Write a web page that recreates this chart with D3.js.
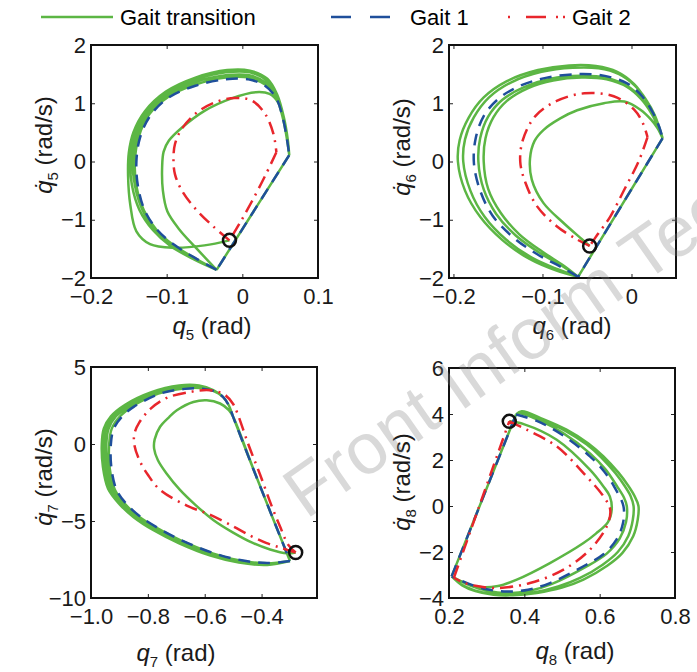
<!DOCTYPE html>
<html>
<head>
<meta charset="utf-8">
<script src="https://cdn.jsdelivr.net/npm/d3@7"></script>
<style>
body { margin: 0; background: #fff; }
text { font-family: "Liberation Sans", Arial, sans-serif; }
</style>
</head>
<body>
<div id="chart"></div>
<script>
// legend entries
var legend_names = ['Gait transition', 'Gait 1', 'Gait 2'];

// ---- q5 panel ----
var q5_xticks = [-0.2, -0.1, 0, 0.1];
var q5_xlabels = ['\u22120.2', '\u22120.1', '0', '0.1'];
var q5_yticks = [-2, -1, 0, 1, 2];
var q5_ylabels = ['\u22122', '\u22121', '0', '1', '2'];
var q5_start = [-0.017, -1.354];
var q5_gait1 = [
  [[-0.034,-1.86],[-0.062,-1.66],[-0.09,-1.43],[-0.112,-1.18],[-0.129,-0.84],[-0.138,-0.42],[-0.140,0.0],[-0.135,0.42],[-0.121,0.8],[-0.097,1.1],[-0.062,1.3],[-0.022,1.41],[0.008,1.41],[0.03,1.3],[0.045,1.08],[0.054,0.72],[0.059,0.38],[0.062,0.11]],
  [[0.062,0.11],[-0.034,-1.86]]
];
var q5_gait2 = [
  [[-0.017,-1.354],[-0.038,-1.12],[-0.06,-0.84],[-0.079,-0.52],[-0.089,-0.22],[-0.091,0.05],[-0.089,0.3],[-0.08,0.56],[-0.06,0.84],[-0.035,1.02],[-0.01,1.09],[0.012,1.05],[0.03,0.82],[0.041,0.48],[0.045,0.16]],
  [[0.045,0.16],[0.03,-0.25],[0.012,-0.7],[-0.003,-1.05],[-0.017,-1.354]]
];
var q5_trans = [
  [[-0.017,-1.354],[-0.05,-1.44],[-0.09,-1.48],[-0.122,-1.42],[-0.14,-1.2],[-0.148,-0.75],[-0.151,-0.25],[-0.15,0.15],[-0.144,0.5],[-0.129,0.86],[-0.101,1.2],[-0.062,1.44],[-0.02,1.57],[0.01,1.56],[0.033,1.42],[0.046,1.15],[0.055,0.75],[0.06,0.38],[0.062,0.11]],
  [[0.062,0.11],[-0.034,-1.86]],
  [[-0.034,-1.86],[-0.06,-1.5],[-0.083,-1.17],[-0.099,-0.86],[-0.105,-0.5],[-0.106,-0.1],[-0.104,0.17],[-0.097,0.36],[-0.08,0.58],[-0.05,0.87],[-0.015,1.08],[0.018,1.19],[0.036,1.16],[0.047,1.02],[0.055,0.7],[0.06,0.36],[0.062,0.11]],
  [[0.062,0.11],[-0.034,-1.86]],
  [[-0.034,-1.86],[-0.064,-1.68],[-0.095,-1.45],[-0.118,-1.18],[-0.136,-0.83],[-0.146,-0.4],[-0.148,0.0],[-0.143,0.43],[-0.127,0.84],[-0.1,1.17],[-0.063,1.4],[-0.022,1.53],[0.01,1.53],[0.032,1.39],[0.046,1.12],[0.055,0.74],[0.06,0.37],[0.062,0.11]],
  [[0.062,0.11],[-0.034,-1.86]],
  [[-0.034,-1.86],[-0.063,-1.67],[-0.092,-1.44],[-0.115,-1.18],[-0.132,-0.83],[-0.142,-0.41],[-0.145,0.0],[-0.14,0.42],[-0.125,0.82],[-0.099,1.13],[-0.063,1.36],[-0.022,1.48],[0.009,1.48],[0.031,1.35],[0.046,1.1],[0.055,0.73],[0.06,0.37],[0.062,0.11]],
  [[0.062,0.11],[-0.034,-1.86]],
  [[-0.034,-1.86],[-0.062,-1.665],[-0.091,-1.435],[-0.113,-1.18],[-0.13,-0.84],[-0.14,-0.42],[-0.142,0.0],[-0.137,0.42],[-0.123,0.81],[-0.098,1.11],[-0.062,1.32],[-0.022,1.44],[0.008,1.44],[0.03,1.32],[0.045,1.09],[0.054,0.72],[0.059,0.38],[0.062,0.11]],
  [[0.062,0.11],[-0.034,-1.86]]
];

// ---- q6 panel ----
var q6_xticks = [-0.2, -0.1, 0];
var q6_xlabels = ['\u22120.2', '\u22120.1', '0'];
var q6_yticks = [-2, -1, 0, 1, 2];
var q6_ylabels = ['\u22122', '\u22121', '0', '1', '2'];
var q6_start = [-0.047, -1.45];
var q6_gait1 = [
  [[-0.06,-1.98],[-0.078,-1.82],[-0.105,-1.6],[-0.133,-1.3],[-0.156,-0.93],[-0.17,-0.5],[-0.177,-0.03],[-0.175,0.4],[-0.166,0.78],[-0.15,1.07],[-0.125,1.3],[-0.095,1.44],[-0.06,1.5],[-0.03,1.47],[-0.005,1.34],[0.012,1.12],[0.024,0.84],[0.031,0.6],[0.035,0.40]],
  [[0.035,0.40],[-0.06,-1.98]]
];
var q6_gait2 = [
  [[-0.047,-1.45],[-0.061,-1.34],[-0.084,-1.11],[-0.106,-0.77],[-0.119,-0.37],[-0.125,0.0],[-0.122,0.37],[-0.108,0.78],[-0.084,1.04],[-0.053,1.17],[-0.02,1.12],[0.003,0.89],[0.013,0.65],[0.018,0.42]],
  [[0.018,0.42],[0.008,0.0],[-0.008,-0.48],[-0.024,-0.95],[-0.038,-1.25],[-0.047,-1.45]]
];
var q6_trans = [
  [[-0.047,-1.45],[-0.056,-1.33],[-0.076,-1.06],[-0.099,-0.71],[-0.112,-0.31],[-0.114,0.05],[-0.109,0.35],[-0.099,0.54],[-0.08,0.74],[-0.061,0.88],[-0.031,1.0],[-0.008,1.03],[0.01,0.89],[0.022,0.72],[0.029,0.58],[0.035,0.40]],
  [[0.035,0.40],[-0.06,-1.98]],
  [[-0.06,-1.98],[-0.085,-1.87],[-0.115,-1.67],[-0.145,-1.35],[-0.17,-0.95],[-0.187,-0.5],[-0.195,0.0],[-0.193,0.37],[-0.183,0.75],[-0.166,1.1],[-0.14,1.38],[-0.105,1.57],[-0.07,1.65],[-0.04,1.64],[-0.016,1.54],[0.003,1.33],[0.015,1.09],[0.025,0.82],[0.035,0.40]],
  [[0.035,0.40],[-0.06,-1.98]],
  [[-0.06,-1.98],[-0.083,-1.85],[-0.112,-1.65],[-0.141,-1.34],[-0.165,-0.95],[-0.181,-0.5],[-0.189,0.0],[-0.187,0.38],[-0.177,0.76],[-0.16,1.1],[-0.135,1.36],[-0.101,1.54],[-0.066,1.61],[-0.037,1.6],[-0.014,1.5],[0.004,1.3],[0.016,1.07],[0.026,0.8],[0.035,0.40]],
  [[0.035,0.40],[-0.06,-1.98]],
  [[-0.06,-1.98],[-0.077,-1.8],[-0.103,-1.57],[-0.13,-1.27],[-0.152,-0.9],[-0.166,-0.48],[-0.172,0.0],[-0.17,0.4],[-0.161,0.77],[-0.145,1.06],[-0.12,1.28],[-0.091,1.42],[-0.058,1.47],[-0.029,1.44],[-0.005,1.3],[0.011,1.09],[0.023,0.82],[0.03,0.6],[0.035,0.40]],
  [[0.035,0.40],[-0.06,-1.98]],
  [[-0.06,-1.98],[-0.076,-1.79],[-0.1,-1.55],[-0.126,-1.25],[-0.147,-0.88],[-0.161,-0.47],[-0.166,0.0],[-0.164,0.4],[-0.155,0.76],[-0.14,1.04],[-0.116,1.26],[-0.088,1.39],[-0.056,1.44],[-0.028,1.41],[-0.005,1.28],[0.011,1.07],[0.023,0.81],[0.03,0.59],[0.035,0.40]],
  [[0.035,0.40],[-0.06,-1.98]]
];

// ---- q7 panel ----
var q7_xticks = [-1.0, -0.8, -0.6, -0.4];
var q7_xlabels = ['\u22121.0', '\u22120.8', '\u22120.6', '\u22120.4'];
var q7_yticks = [-10, -5, 0, 5];
var q7_ylabels = ['\u221210', '\u22125', '0', '5'];
var q7_start = [-0.28, -7.05];
var q7_gait1 = [
  [[-0.30,-7.6],[-0.38,-7.73],[-0.47,-7.55],[-0.57,-7.08],[-0.685,-6.22],[-0.76,-5.5],[-0.827,-4.71],[-0.875,-3.9],[-0.91,-2.98],[-0.928,-1.6],[-0.93,0.0],[-0.92,1.0],[-0.89,1.8],[-0.85,2.41],[-0.757,3.27],[-0.67,3.58],[-0.616,3.6],[-0.57,3.45],[-0.535,3.05],[-0.515,2.5],[-0.5,1.76],[-0.421,-2.0],[-0.30,-7.6]]
];
var q7_gait2 = [
  [[-0.28,-7.05],[-0.33,-6.75],[-0.382,-6.44],[-0.44,-5.95],[-0.499,-5.36],[-0.58,-4.6],[-0.663,-4.0],[-0.757,-2.98],[-0.8,-2.0],[-0.83,-1.04],[-0.848,0.0],[-0.847,0.68],[-0.83,1.4],[-0.79,2.3],[-0.733,3.0],[-0.651,3.38],[-0.581,3.49],[-0.53,3.2],[-0.5,2.6],[-0.485,2.0],[-0.447,0.0],[-0.405,-2.0],[-0.365,-4.0],[-0.335,-5.36],[-0.306,-6.55],[-0.28,-7.05]]
];
var q7_trans = [
  [[-0.28,-7.05],[-0.312,-7.1],[-0.37,-6.85],[-0.429,-6.44],[-0.5,-5.75],[-0.57,-4.93],[-0.63,-4.0],[-0.687,-2.98],[-0.735,-1.9],[-0.765,-1.04],[-0.778,-0.3],[-0.776,0.3],[-0.757,1.12],[-0.725,1.75],[-0.698,2.19],[-0.64,2.73],[-0.593,2.84],[-0.546,2.63],[-0.515,2.2],[-0.5,1.76],[-0.421,-2.0],[-0.30,-7.6]],
  [[-0.30,-7.6],[-0.38,-7.85],[-0.48,-7.7],[-0.58,-7.25],[-0.69,-6.45],[-0.78,-5.6],[-0.85,-4.75],[-0.9,-3.9],[-0.94,-2.9],[-0.958,-1.5],[-0.962,0.0],[-0.955,1.0],[-0.93,1.8],[-0.88,2.55],[-0.79,3.35],[-0.69,3.8],[-0.62,3.8],[-0.57,3.5],[-0.535,3.05],[-0.515,2.5],[-0.5,1.76],[-0.421,-2.0],[-0.30,-7.6]],
  [[-0.30,-7.6],[-0.38,-7.81],[-0.478,-7.66],[-0.578,-7.2],[-0.688,-6.38],[-0.776,-5.55],[-0.845,-4.73],[-0.894,-3.9],[-0.932,-2.92],[-0.95,-1.55],[-0.954,0.0],[-0.947,1.0],[-0.921,1.8],[-0.872,2.5],[-0.782,3.3],[-0.685,3.72],[-0.618,3.74],[-0.57,3.48],[-0.535,3.05],[-0.515,2.5],[-0.5,1.76],[-0.421,-2.0],[-0.30,-7.6]],
  [[-0.30,-7.6],[-0.38,-7.78],[-0.475,-7.62],[-0.575,-7.15],[-0.686,-6.32],[-0.77,-5.52],[-0.838,-4.72],[-0.888,-3.9],[-0.925,-2.95],[-0.942,-1.58],[-0.946,0.0],[-0.938,1.0],[-0.912,1.8],[-0.864,2.46],[-0.772,3.28],[-0.68,3.66],[-0.617,3.68],[-0.57,3.47],[-0.535,3.05],[-0.515,2.5],[-0.5,1.76],[-0.421,-2.0],[-0.30,-7.6]],
  [[-0.30,-7.6],[-0.38,-7.75],[-0.472,-7.58],[-0.572,-7.1],[-0.686,-6.25],[-0.764,-5.5],[-0.832,-4.71],[-0.88,-3.9],[-0.916,-2.97],[-0.934,-1.6],[-0.936,0.0],[-0.927,1.0],[-0.898,1.8],[-0.856,2.43],[-0.763,3.28],[-0.674,3.61],[-0.616,3.63],[-0.57,3.46],[-0.535,3.05],[-0.515,2.5],[-0.5,1.76],[-0.421,-2.0],[-0.30,-7.6]]
];

// ---- q8 panel ----
var q8_xticks = [0.2, 0.4, 0.6, 0.8];
var q8_xlabels = ['0.2', '0.4', '0.6', '0.8'];
var q8_yticks = [-4, -2, 0, 2, 4, 6];
var q8_ylabels = ['\u22124', '\u22122', '0', '2', '4', '6'];
var q8_start = [0.36, 3.68];
var q8_gait1 = [
  [[0.378,3.98],[0.433,3.7],[0.5,3.1],[0.574,2.16],[0.612,1.5],[0.64,0.8],[0.663,0.0],[0.662,-0.74],[0.645,-1.45],[0.61,-2.1],[0.557,-2.62],[0.468,-3.35],[0.41,-3.64],[0.353,-3.72],[0.3,-3.62],[0.255,-3.4],[0.207,-3.06]],
  [[0.207,-3.06],[0.378,3.98]]
];
var q8_gait2 = [
  [[0.36,3.68],[0.406,3.32],[0.486,2.59],[0.557,1.43],[0.61,0.42],[0.628,-0.16],[0.619,-0.88],[0.574,-1.9],[0.504,-2.77],[0.415,-3.35],[0.327,-3.57],[0.27,-3.47],[0.238,-3.33],[0.213,-3.12]],
  [[0.213,-3.12],[0.36,3.68]]
];
var q8_trans = [
  [[0.36,3.68],[0.4,3.55],[0.486,2.88],[0.574,1.58],[0.61,0.85],[0.627,0.42],[0.632,-0.16],[0.622,-0.7],[0.59,-1.2],[0.557,-1.61],[0.468,-2.48],[0.38,-3.2],[0.33,-3.48],[0.28,-3.52],[0.24,-3.33],[0.207,-3.06]],
  [[0.207,-3.06],[0.378,3.98]],
  [[0.378,3.98],[0.393,4.12],[0.45,3.78],[0.512,3.32],[0.57,2.72],[0.61,2.16],[0.65,1.45],[0.675,0.9],[0.692,0.45],[0.703,0.0],[0.701,-0.6],[0.689,-1.32],[0.66,-2.05],[0.62,-2.6],[0.557,-3.2],[0.5,-3.55],[0.433,-3.78],[0.37,-3.88],[0.318,-3.86],[0.27,-3.7],[0.235,-3.45],[0.207,-3.06]],
  [[0.207,-3.06],[0.378,3.98]],
  [[0.378,3.98],[0.39,4.08],[0.445,3.76],[0.508,3.28],[0.565,2.68],[0.604,2.12],[0.642,1.42],[0.666,0.88],[0.682,0.44],[0.69,0.0],[0.688,-0.6],[0.676,-1.3],[0.648,-2.0],[0.608,-2.55],[0.548,-3.13],[0.49,-3.5],[0.428,-3.75],[0.365,-3.86],[0.315,-3.83],[0.268,-3.67],[0.233,-3.42],[0.207,-3.06]],
  [[0.207,-3.06],[0.378,3.98]],
  [[0.378,3.98],[0.388,4.03],[0.44,3.72],[0.503,3.17],[0.575,2.28],[0.616,1.58],[0.646,0.86],[0.665,0.35],[0.672,0.0],[0.67,-0.7],[0.653,-1.42],[0.618,-2.08],[0.563,-2.65],[0.472,-3.4],[0.412,-3.7],[0.355,-3.79],[0.3,-3.68],[0.255,-3.45],[0.207,-3.06]],
  [[0.207,-3.06],[0.378,3.98]]
];

var green = '#5cb644', blue = '#1f4f9b', red = '#e8262c';
var tickFont = 22, labelFont = 24, subFont = 15;

var svg = d3.select('#chart')
  .append('svg')
  .attr('width', 697)
  .attr('height', 672);

// Legend
var leg = svg.append('g');
leg.append('line').attr('x1', 41).attr('x2', 113).attr('y1', 17).attr('y2', 17)
  .attr('stroke', green).attr('stroke-width', 2.5);
leg.append('text').attr('x', 120).attr('y', 25).attr('font-size', 22).text(legend_names[0]);
leg.append('line').attr('x1', 331).attr('x2', 390).attr('y1', 17).attr('y2', 17)
  .attr('stroke', blue).attr('stroke-width', 2.5).attr('stroke-dasharray', '20,19');
leg.append('text').attr('x', 410).attr('y', 25).attr('font-size', 22).text(legend_names[1]);
leg.append('line').attr('x1', 508).attr('x2', 566).attr('y1', 17).attr('y2', 17)
  .attr('stroke', red).attr('stroke-width', 2.5).attr('stroke-dasharray', '2,16,20,10,2,5,2,50');
leg.append('text').attr('x', 572).attr('y', 25).attr('font-size', 22).text(legend_names[2]);

var panels = [
  {sub: '5', left: 91, top: 45, w: 227, h: 233, xdom: [-0.2, 0.1], ydom: [-2, 2],
   xticks: q5_xticks, xlabels: q5_xlabels, yticks: q5_yticks, ylabels: q5_ylabels,
   gait1: q5_gait1, gait2: q5_gait2, trans: q5_trans, start: q5_start,
   xlabX: 212, xlabDy: 56, ylabY: 145},
  {sub: '6', left: 449, top: 45, w: 227, h: 233, xdom: [-0.205, 0.05], ydom: [-2, 2],
   xticks: q6_xticks, xlabels: q6_xlabels, yticks: q6_yticks, ylabels: q6_ylabels,
   gait1: q6_gait1, gait2: q6_gait2, trans: q6_trans, start: q6_start,
   xlabX: 572, xlabDy: 56, ylabY: 147},
  {sub: '7', left: 91, top: 367, w: 226, h: 231, xdom: [-1.0, -0.205], ydom: [-10, 5],
   xticks: q7_xticks, xlabels: q7_xlabels, yticks: q7_yticks, ylabels: q7_ylabels,
   gait1: q7_gait1, gait2: q7_gait2, trans: q7_trans, start: q7_start,
   xlabX: 176, xlabDy: 63, ylabY: 477},
  {sub: '8', left: 449, top: 368, w: 226, h: 230, xdom: [0.2, 0.8], ydom: [-4, 6],
   xticks: q8_xticks, xlabels: q8_xlabels, yticks: q8_yticks, ylabels: q8_ylabels,
   gait1: q8_gait1, gait2: q8_gait2, trans: q8_trans, start: q8_start,
   xlabX: 575, xlabDy: 61, ylabY: 482}
];

panels.forEach(function(p) {
  var g = svg.append('g').attr('transform', 'translate(' + p.left + ',' + p.top + ')');
  var x = d3.scaleLinear().domain(p.xdom).range([0, p.w]);
  var y = d3.scaleLinear().domain(p.ydom).range([p.h, 0]);
  var line = d3.line()
    .x(function(d) { return x(d[0]); })
    .y(function(d) { return y(d[1]); })
    .curve(d3.curveCatmullRom.alpha(0.5));
  function pathOf(pieces) { return pieces.map(function(pc) { return line(pc); }).join(''); }

  g.append('path').attr('d', pathOf(p.trans))
    .attr('fill', 'none').attr('stroke', green).attr('stroke-width', 2.5)
    .attr('stroke-linejoin', 'round');
  g.append('path').attr('d', pathOf(p.gait1))
    .attr('fill', 'none').attr('stroke', blue).attr('stroke-width', 2.5)
    .attr('stroke-dasharray', '12,8');
  g.append('path').attr('d', pathOf(p.gait2))
    .attr('fill', 'none').attr('stroke', red).attr('stroke-width', 2.5)
    .attr('stroke-dasharray', '13,6,2,6');
  g.append('circle').attr('cx', x(p.start[0])).attr('cy', y(p.start[1])).attr('r', 6.5)
    .attr('fill', 'none').attr('stroke', '#111').attr('stroke-width', 2.5);

  // axes with inward ticks
  var fx = function(d) { return p.xlabels[p.xticks.indexOf(d)]; };
  var fy = function(d) { return p.ylabels[p.yticks.indexOf(d)]; };
  var ax = g.append('g').attr('transform', 'translate(0,' + p.h + ')')
    .call(d3.axisBottom(x).tickValues(p.xticks).tickFormat(fx).tickSize(-4).tickPadding(10));
  var ay = g.append('g')
    .call(d3.axisLeft(y).tickValues(p.yticks).tickFormat(fy).tickSize(-4).tickPadding(5));
  var at = g.append('g')
    .call(d3.axisTop(x).tickValues(p.xticks).tickFormat('').tickSize(-4));
  var ar = g.append('g').attr('transform', 'translate(' + p.w + ',0)')
    .call(d3.axisRight(y).tickValues(p.yticks).tickFormat('').tickSize(-4));
  [ax, ay, at, ar].forEach(function(a) {
    a.select('.domain').remove();
    a.selectAll('line').attr('stroke', '#222');
    a.selectAll('text').attr('font-size', tickFont).attr('fill', '#1a1a1a')
      .attr('font-family', '"Liberation Sans", Arial, sans-serif');
  });

  g.append('rect').attr('width', p.w).attr('height', p.h)
    .attr('fill', 'none').attr('stroke', '#111').attr('stroke-width', 2);

  // x label
  var xl = svg.append('text').attr('x', p.xlabX).attr('y', p.top + p.h + p.xlabDy)
    .attr('text-anchor', 'middle').attr('font-size', labelFont).attr('fill', '#1a1a1a');
  xl.append('tspan').attr('font-style', 'italic').text('q');
  xl.append('tspan').attr('font-size', subFont).attr('dy', 6).text(p.sub);
  xl.append('tspan').attr('dy', -6).text('\u00a0(rad)');

  // y label
  var yl = svg.append('text')
    .attr('transform', 'translate(' + (p.left - 39) + ',' + p.ylabY + ') rotate(-90)')
    .attr('text-anchor', 'middle').attr('font-size', labelFont).attr('fill', '#1a1a1a');
  yl.append('tspan').attr('font-style', 'italic').text('q\u0307');
  yl.append('tspan').attr('font-size', subFont).attr('dy', 6).text(p.sub);
  yl.append('tspan').attr('dy', -6).text('\u00a0(rad/s)');
});

// watermark
svg.append('text')
  .attr('transform', 'translate(306,520) rotate(-35)')
  .attr('font-size', 72).attr('fill', '#808080').attr('fill-opacity', 0.3)
  .text('Front Inform Technol Electron Eng');
</script>
</body>
</html>
